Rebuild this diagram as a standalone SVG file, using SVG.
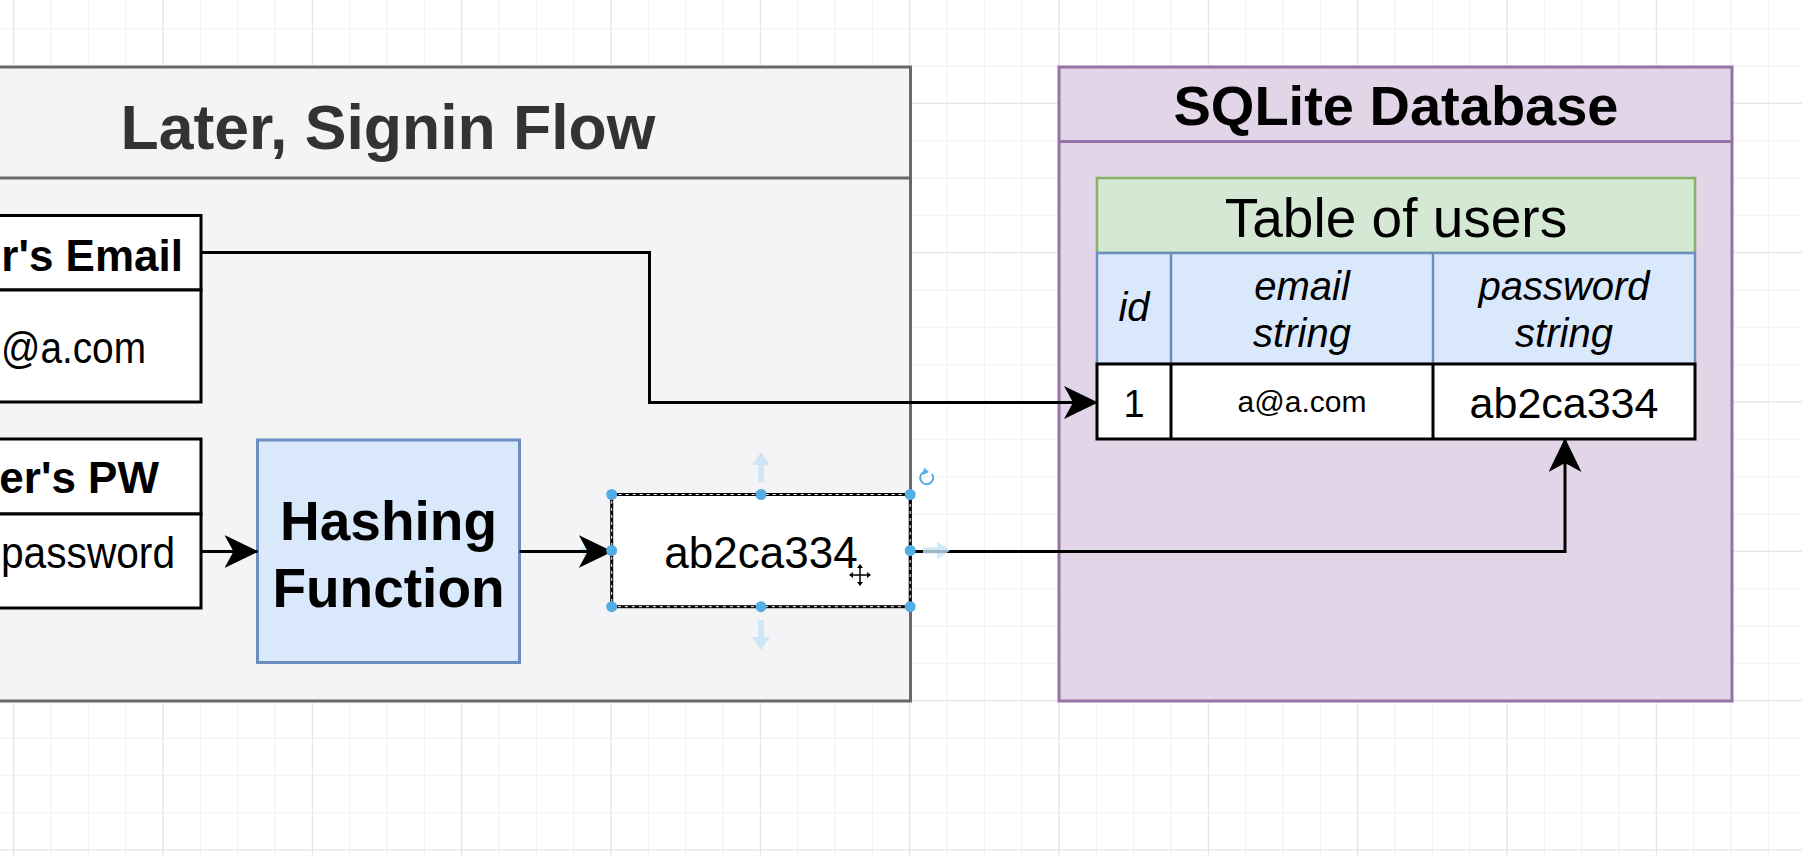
<svg xmlns="http://www.w3.org/2000/svg" width="1802" height="857" viewBox="0 0 1802 857">
  <defs>
    <style>
      .sans { font-family: "Liberation Sans", Arial, Helvetica, sans-serif; }
      .bold { font-weight: bold; }
      .it { font-style: italic; }
      .mid { text-anchor: middle; }
      .end { text-anchor: end; }
      .box { fill: #ffffff; stroke: #000000; stroke-width: 3; }
      .conn { fill: none; stroke: #000000; stroke-width: 3; }
      .handle { fill: #55aee3; }
      .hover { fill: #c6e2f5; opacity: 0.8; }
    </style>
    <pattern id="gridMinor" patternUnits="userSpaceOnUse" x="13.2" y="28.2" width="37.333" height="37.333">
      <path d="M0.5 0 V37.333 M0 0.5 H37.333" stroke="#f1f1f1" stroke-width="1" fill="none"/>
    </pattern>
    <pattern id="gridMajor" patternUnits="userSpaceOnUse" x="13.2" y="102.8" width="149.333" height="149.333">
      <path d="M0.5 0 V149.333 M0 0.5 H149.333" stroke="#e3e3e3" stroke-width="1" fill="none"/>
    </pattern>
    <marker id="arrow" markerUnits="userSpaceOnUse" viewBox="0 0 34 33" markerWidth="34" markerHeight="33" refX="33" refY="16.5" orient="auto">
      <path d="M0,0 L34,16.5 L0,33 L9,16.5 Z" fill="#000000"/>
    </marker>
  </defs>

  <!-- background grid -->
  <rect x="0" y="0" width="1802" height="857" fill="#ffffff"/>
  <rect x="0" y="0" width="1802" height="857" fill="url(#gridMinor)"/>
  <rect x="0" y="0" width="1802" height="857" fill="url(#gridMajor)"/>

  <!-- Left container: Later, Signin Flow -->
  <g id="signin-flow">
    <rect x="-10" y="67" width="920.5" height="634" fill="#f4f4f6" stroke="#696969" stroke-width="3"/>
    <line x1="-10" y1="178" x2="910.5" y2="178" stroke="#696969" stroke-width="3"/>
    <text class="sans bold mid" x="388" y="149" font-size="62.5" fill="#333333">Later, Signin Flow</text>
  </g>

  <!-- Right container: SQLite Database -->
  <g id="sqlite-db">
    <rect x="1059" y="67" width="673" height="634" fill="#e1d5e7" stroke="#9673a6" stroke-width="3"/>
    <line x1="1059" y1="141.5" x2="1732" y2="141.5" stroke="#9673a6" stroke-width="3"/>
    <text class="sans bold mid" x="1396" y="125" font-size="56" fill="#000000">SQLite Database</text>
  </g>

  <!-- Table of users -->
  <g id="users-table">
    <rect x="1097" y="178" width="598" height="75" fill="#d5e8d4" stroke="#82b366" stroke-width="2.5"/>
    <text class="sans mid" x="1396" y="237" font-size="55" fill="#000000">Table of users</text>
    <rect x="1097" y="253" width="598" height="111" fill="#dae8fc" stroke="#6c8ebf" stroke-width="2.5"/>
    <line x1="1171" y1="253" x2="1171" y2="364" stroke="#6c8ebf" stroke-width="2.5"/>
    <line x1="1433" y1="253" x2="1433" y2="364" stroke="#6c8ebf" stroke-width="2.5"/>
    <text class="sans it mid" x="1134" y="321" font-size="40">id</text>
    <text class="sans it mid" x="1302" y="300" font-size="40">email</text>
    <text class="sans it mid" x="1302" y="347" font-size="40">string</text>
    <text class="sans it mid" x="1564" y="300" font-size="40">password</text>
    <text class="sans it mid" x="1564" y="347" font-size="40">string</text>
    <rect class="box" x="1097" y="364" width="598" height="75"/>
    <line x1="1171" y1="364" x2="1171" y2="439" stroke="#000" stroke-width="3"/>
    <line x1="1433" y1="364" x2="1433" y2="439" stroke="#000" stroke-width="3"/>
    <text class="sans mid" x="1134" y="417" font-size="38">1</text>
    <text class="sans mid" x="1302" y="412" font-size="30">a@a.com</text>
    <text class="sans mid" x="1564" y="418" font-size="43">ab2ca334</text>
  </g>

  <!-- User's Email entity -->
  <g id="user-email">
    <rect class="box" x="-100" y="215.5" width="301" height="74.5"/>
    <rect class="box" x="-100" y="290" width="301" height="112"/>
    <text class="sans bold end" x="183" y="271" font-size="44">r's Email</text>
    <text class="sans" x="1" y="363" font-size="44" textLength="145" lengthAdjust="spacingAndGlyphs">@a.com</text>
  </g>

  <!-- User's PW entity -->
  <g id="user-pw">
    <rect class="box" x="-100" y="439" width="301" height="75"/>
    <rect class="box" x="-100" y="514" width="301" height="94"/>
    <text class="sans bold end" x="159" y="493" font-size="44">er's PW</text>
    <text class="sans" x="1" y="568" font-size="44" textLength="174" lengthAdjust="spacingAndGlyphs">password</text>
  </g>

  <!-- Hashing Function -->
  <g id="hashing-function">
    <rect x="257.5" y="440" width="262" height="222.5" fill="#dae8fc" stroke="#6c8ebf" stroke-width="3"/>
    <text class="sans bold mid" x="388.5" y="540" font-size="55">Hashing</text>
    <text class="sans bold mid" x="388.5" y="606.5" font-size="55">Function</text>
  </g>

  <!-- Hash output -->
  <g id="hash-output">
    <rect class="box" x="611.7" y="494.5" width="298.5" height="112.2"/>
    <text class="sans mid" x="761" y="568" font-size="44">ab2ca334</text>
  </g>

  <!-- hover arrow hidden mostly behind the incoming connector -->
  <polygon class="hover" opacity="0.6" points="605,547.5 605,553.5 591,553.5 591,559.5 578,550.5 591,541.5 591,547.5"/>

  <!-- Connectors -->
  <g id="connectors">
    <path class="conn" d="M201,252.5 H649.5 V402.5 H1097" marker-end="url(#arrow)"/>
    <path class="conn" d="M201,551.5 H257.5" marker-end="url(#arrow)"/>
    <path class="conn" d="M519.5,551.5 H611.7" marker-end="url(#arrow)"/>
    <path class="conn" d="M910.2,551.5 H1565 V439" marker-end="url(#arrow)"/>
  </g>

  <!-- Selection overlay on hash output (editor UI as shown) -->
  <g id="selection-overlay">
    <rect x="611.7" y="494.5" width="298.5" height="112.2" fill="none" stroke="#ffffff" stroke-width="1" stroke-dasharray="3 4"/>
    <polygon class="hover" points="758,482 764,482 764,465 770,465 761,452 752,465 758,465"/>
    <polygon class="hover" points="758,620 764,620 764,637 770,637 761,650 752,637 758,637"/>
    <polygon class="hover" points="923,547.5 923,553.5 937,553.5 937,559.5 950,550.5 937,541.5 937,547.5"/>
    <circle class="handle" cx="611.7" cy="494.5" r="5.5"/>
    <circle class="handle" cx="761" cy="494.5" r="5.5"/>
    <circle class="handle" cx="910.2" cy="494.5" r="5.5"/>
    <circle class="handle" cx="611.7" cy="550.5" r="5.5"/>
    <circle class="handle" cx="910.2" cy="550.5" r="5.5"/>
    <circle class="handle" cx="611.7" cy="606.7" r="5.5"/>
    <circle class="handle" cx="761" cy="606.7" r="5.5"/>
    <circle class="handle" cx="910.2" cy="606.7" r="5.5"/>
    <path d="M932,474 A6.5,6.5 0 1 1 925,471.5" fill="none" stroke="#55aee3" stroke-width="2"/>
    <polygon points="924,467.5 929,472 923,475" fill="#55aee3"/>
    <g stroke-linecap="round">
      <path d="M851,575 H869 M860,566 V584" stroke="#ffffff" stroke-width="4"/>
      <path d="M852,575 H868 M860,567 V583" stroke="#000000" stroke-width="1.5"/>
      <polygon points="849,575 853,572 853,578" fill="#000"/>
      <polygon points="871,575 867,572 867,578" fill="#000"/>
      <polygon points="860,564 857,568 863,568" fill="#000"/>
      <polygon points="860,586 857,582 863,582" fill="#000"/>
    </g>
  </g>
</svg>
